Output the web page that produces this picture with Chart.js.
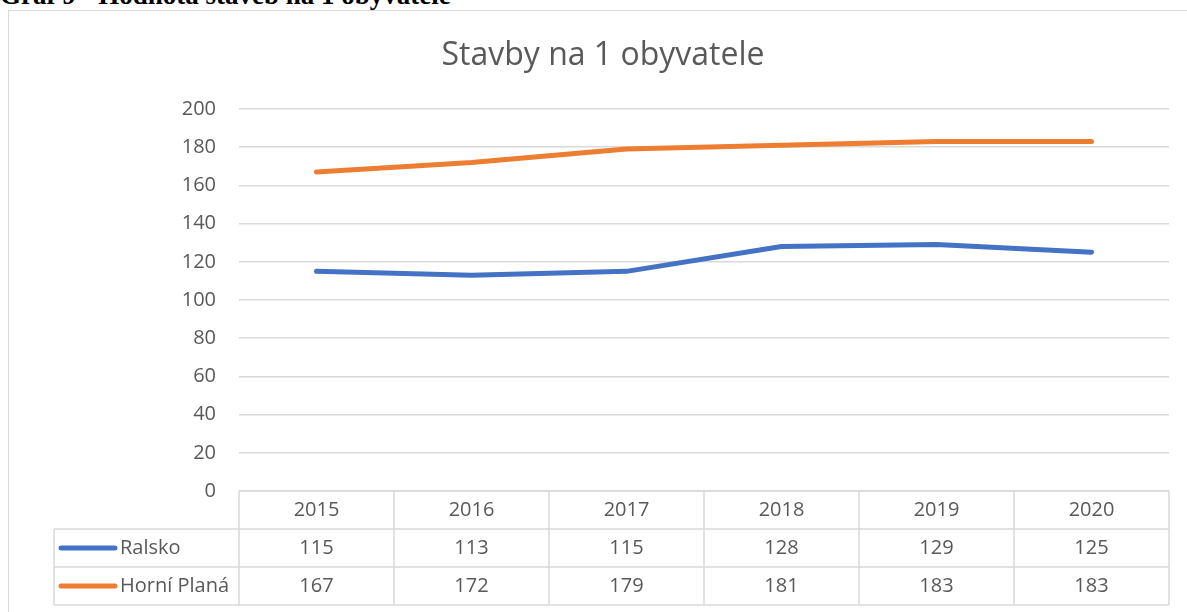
<!DOCTYPE html>
<html lang="cs">
<head>
<meta charset="utf-8">
<title>Stavby na 1 obyvatele</title>
<script src="https://cdn.jsdelivr.net/npm/chart.js@4"></script>
<style>
    html, body { margin: 0; padding: 0; background: #fff; overflow: hidden; width: 1187px; height: 612px; }
    .caption {
        position: absolute; left: 0; top: -18px; margin: 0;
        font: bold 27px/1 "Liberation Serif", "Times New Roman", serif;
        color: #000; white-space: nowrap;
    }
    .box {
        position: absolute; left: 8px; top: 10px;
        width: 1190px; height: 620px;
        border: 1px solid #d9d9d9; background: #fff;
    }
    #chart { display: block; }
</style>
</head>
<body>
<p class="caption">Graf 9 - Hodnota staveb na 1 obyvatele</p>
<div class="box">
    <canvas id="chart" width="1190" height="601"></canvas>
</div>
<script>
const years = ['2015', '2016', '2017', '2018', '2019', '2020'];
const seriesNames = ['Ralsko', 'Horní Planá'];
const ralsko = [115, 113, 115, 128, 129, 125];
const horniPlana = [167, 172, 179, 181, 183, 183];
const seriesColors = ['#4472C4', '#ED7D31'];

const textColor = '#595959';
const lineColor = '#d9d9d9';
const font = '"Open Sans", "Noto Sans", sans-serif';

// data table under the plot, drawn from the same arrays and the x scale
const dataTable = {
    id: 'dataTable',
    afterDraw(chart) {
        const ctx = chart.ctx;
        const x = chart.scales.x;
        const area = chart.chartArea;
        const half = (area.right - area.left) / years.length / 2;
        const rowH = 38;
        const legendLeft = 45;
        const rows = [years, ralsko, horniPlana];
        const top = area.bottom;
        const bottom = top + rowH * rows.length;

        ctx.save();
        ctx.strokeStyle = lineColor;
        ctx.lineWidth = 1.5;
        ctx.beginPath();
        // horizontal rules
        ctx.moveTo(area.left, top);
        ctx.lineTo(area.right, top);
        for (let r = 1; r <= rows.length; r++) {
            ctx.moveTo(legendLeft, top + rowH * r);
            ctx.lineTo(area.right, top + rowH * r);
        }
        // vertical rules
        ctx.moveTo(legendLeft, top + rowH);
        ctx.lineTo(legendLeft, bottom);
        ctx.moveTo(area.left, top);
        ctx.lineTo(area.left, bottom);
        years.forEach((y, i) => {
            const edge = x.getPixelForValue(i) + half;
            ctx.moveTo(edge, top);
            ctx.lineTo(edge, bottom);
        });
        ctx.stroke();

        ctx.fillStyle = textColor;
        ctx.font = '20px ' + font;
        ctx.textAlign = 'center';
        ctx.textBaseline = 'middle';
        rows.forEach((row, r) => {
            const cy = top + rowH * r + rowH / 2;
            row.forEach((v, i) => {
                ctx.fillText(String(v), x.getPixelForValue(i), cy);
            });
        });

        // legend keys in the first column
        seriesNames.forEach((name, s) => {
            const cy = top + rowH * (s + 1) + rowH / 2;
            ctx.strokeStyle = seriesColors[s];
            ctx.lineWidth = 5;
            ctx.lineCap = 'round';
            ctx.beginPath();
            ctx.moveTo(legendLeft + 7, cy);
            ctx.lineTo(legendLeft + 61, cy);
            ctx.stroke();
            ctx.fillStyle = textColor;
            ctx.textAlign = 'left';
            ctx.fillText(name, legendLeft + 66, cy);
        });
        ctx.restore();
    }
};

new Chart(document.getElementById('chart'), {
    type: 'line',
    data: {
        labels: years,
        datasets: [
            {
                label: seriesNames[0],
                data: ralsko,
                borderColor: seriesColors[0],
                backgroundColor: seriesColors[0],
                borderWidth: 5,
                pointRadius: 0,
                tension: 0,
                borderCapStyle: 'round',
                borderJoinStyle: 'round'
            },
            {
                label: seriesNames[1],
                data: horniPlana,
                borderColor: seriesColors[1],
                backgroundColor: seriesColors[1],
                borderWidth: 5,
                pointRadius: 0,
                tension: 0,
                borderCapStyle: 'round',
                borderJoinStyle: 'round'
            }
        ]
    },
    options: {
        responsive: false,
        animation: false,
        layout: { padding: { left: 28, right: 30, top: 0, bottom: 121 } },
        plugins: {
            legend: { display: false },
            tooltip: { enabled: false },
            title: {
                display: true,
                text: 'Stavby na 1 obyvatele',
                color: textColor,
                font: { family: font, size: 32, weight: 'normal', lineHeight: 1.2 },
                padding: { top: 26, bottom: 33.6 }
            }
        },
        scales: {
            x: {
                display: false,
                offset: true
            },
            y: {
                min: 0,
                max: 200,
                border: { display: false },
                grid: { color: lineColor, lineWidth: 1.5, drawTicks: false },
                ticks: {
                    stepSize: 20,
                    padding: 23,
                    color: textColor,
                    font: { family: font, size: 20 }
                },
                afterFit(scale) { scale.width = 202; }
            }
        }
    },
    plugins: [dataTable]
});
</script>
</body>
</html>
